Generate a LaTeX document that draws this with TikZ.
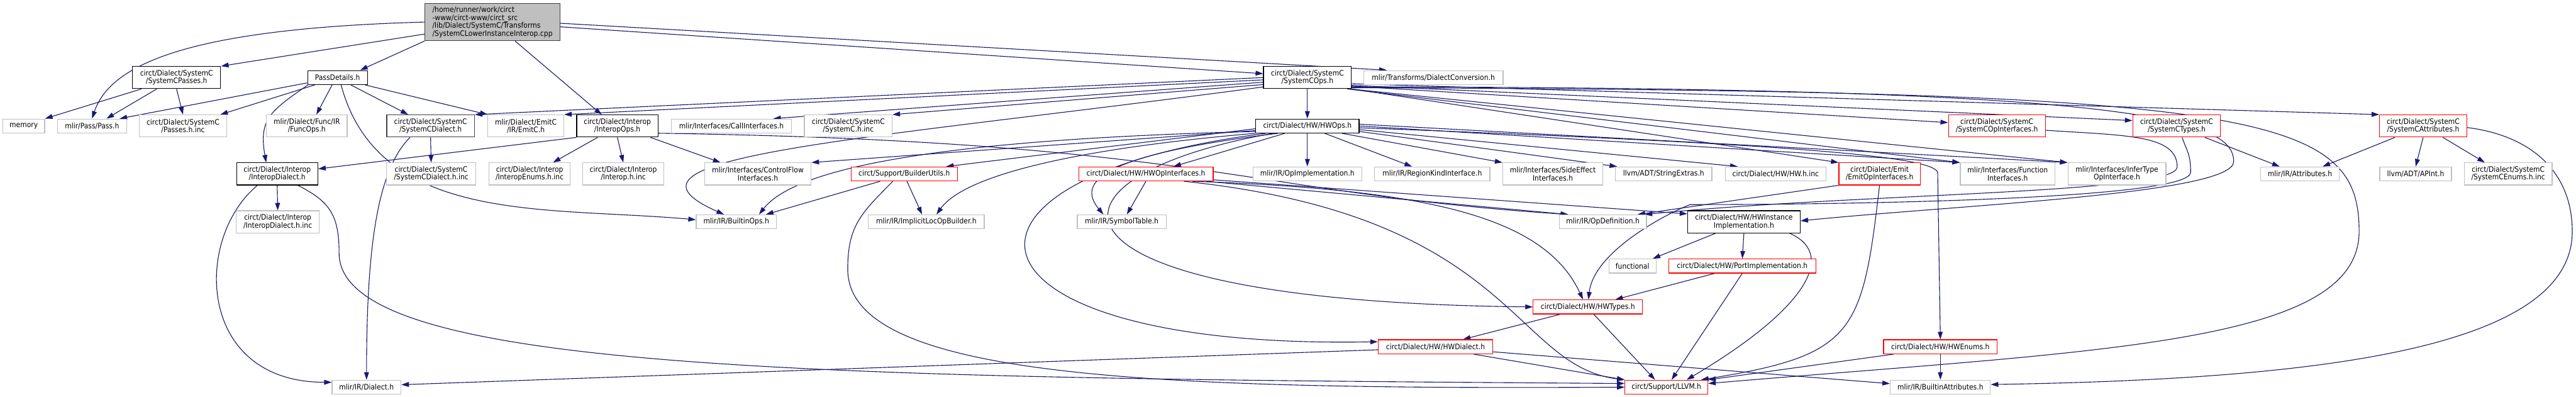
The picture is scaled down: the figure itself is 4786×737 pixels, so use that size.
\documentclass[tikz,border=0pt]{standalone}
\usepackage{fontspec}
\setmainfont{DejaVu Sans Condensed}
\usetikzlibrary{arrows.meta}
\definecolor{dedge}{HTML}{191970}
\definecolor{dgrey}{HTML}{BFBFBF}
\definecolor{ddark}{HTML}{404040}
\definecolor{dred}{HTML}{FF0000}
\pgfdeclarelayer{paper}
\pgfdeclarelayer{edges}
\pgfsetlayers{paper,edges,main}

\begin{document}
\begin{tikzpicture}[x=1pt, y=-1pt,
  file/.style={draw, line width=1.4pt, fill=white, inner sep=0pt, minimum height=26pt, align=center, font=\fontsize{14}{14.5}\selectfont},
  ext/.style={file, draw=dgrey},
  doc/.style={file, draw=black},
  trunc/.style={file, draw=dred},
  twoline/.style={minimum height=41pt},
  inc/.style={draw=dedge, line width=1.3pt, -{Triangle[length=14pt, width=9pt]}}]
 \begin{pgfonlayer}{paper}
 \fill[white] (0,0) rectangle (4786,737);
 \end{pgfonlayer}
 \useasboundingbox (0,0) rectangle (4786,737);
 % the source file
 \node[doc, draw=ddark, fill=dgrey, align=left, minimum width=251pt, minimum height=69pt] (root) at (915,41) {/home/runner/work/circt\\-www/circt-www/circt\_src\\/lib/Dialect/SystemC/Transforms\\/SystemCLowerInstanceInterop.cpp};
 % first level
 \node[doc, twoline, minimum width=164pt] (scpasses) at (328,144) {circt/Dialect/SystemC\\/SystemCPasses.h};
 \node[doc, minimum width=111pt] (passdet) at (627,144) {PassDetails.h};
 \node[doc, twoline, minimum width=163pt] (scops) at (2429,144) {circt/Dialect/SystemC\\/SystemCOps.h};
 \node[ext, minimum width=259pt] (dconv) at (2663,144) {mlir/Transforms/DialectConversion.h};
 % second row
 \node[ext, minimum width=78pt] (memory) at (44,234) {memory};
 \node[ext, minimum width=128pt] (pass) at (171,234) {mlir/Pass/Pass.h};
 \node[ext, twoline, minimum width=162pt] (passinc) at (340,234) {circt/Dialect/SystemC\\/Passes.h.inc};
 \node[ext, twoline, minimum width=150pt] (funcops) at (570,234) {mlir/Dialect/Func/IR\\/FuncOps.h};
 \node[doc, twoline, draw=ddark, minimum width=163pt] (scdialect) at (800,234) {circt/Dialect/SystemC\\/SystemCDialect.h};
 \node[ext, twoline, minimum width=141pt] (emitc) at (977,234) {mlir/Dialect/EmitC\\/IR/EmitC.h};
 \node[doc, twoline, minimum width=151pt] (interopops) at (1147,234) {circt/Dialect/Interop\\/InteropOps.h};
 \node[ext, minimum width=223pt] (callif) at (1359,234) {mlir/Interfaces/CallInterfaces.h};
 \node[ext, twoline, minimum width=163pt] (scinc) at (1576,234) {circt/Dialect/SystemC\\/SystemC.h.inc};
 \node[doc, minimum width=192pt] (hwops) at (2429,234) {circt/Dialect/HW/HWOps.h};
 \node[trunc, twoline, minimum width=180pt] (scopif) at (3710,234) {circt/Dialect/SystemC\\/SystemCOpInterfaces.h};
 \node[trunc, twoline, minimum width=163pt] (sctypes) at (4044,234) {circt/Dialect/SystemC\\/SystemCTypes.h};
 \node[trunc, twoline, minimum width=162pt] (scattr) at (4502,234) {circt/Dialect/SystemC\\/SystemCAttributes.h};
 % third row
 \node[doc, twoline, minimum width=151pt] (interopdialect) at (515,323) {circt/Dialect/Interop\\/InteropDialect.h};
 \node[ext, twoline, minimum width=166pt] (scdialectinc) at (801,323) {circt/Dialect/SystemC\\/SystemCDialect.h.inc};
 \node[ext, twoline, minimum width=151pt] (interopenums) at (984,323) {circt/Dialect/Interop\\/InteropEnums.h.inc};
 \node[ext, twoline, minimum width=151pt] (interopinc) at (1158,323) {circt/Dialect/Interop\\/Interop.h.inc};
 \node[ext, twoline, minimum width=198pt] (cfif) at (1408,323) {mlir/Interfaces/ControlFlow\\Interfaces.h};
 \node[trunc, minimum width=197pt] (builderutils) at (1680,323) {circt/Support/BuilderUtils.h};
 \node[trunc, minimum width=250pt] (hwopif) at (2129,323) {circt/Dialect/HW/HWOpInterfaces.h};
 \node[ext, minimum width=202pt] (opimpl) at (2429,323) {mlir/IR/OpImplementation.h};
 \node[ext, minimum width=214pt] (regionkind) at (2661,323) {mlir/IR/RegionKindInterface.h};
 \node[ext, twoline, minimum width=186pt] (sideeff) at (2885,323) {mlir/Interfaces/SideEffect\\Interfaces.h};
 \node[ext, minimum width=179pt] (strext) at (3091,323) {llvm/ADT/StringExtras.h};
 \node[ext, minimum width=187pt] (hwinc) at (3299,323) {circt/Dialect/HW/HW.h.inc};
 \node[trunc, twoline, minimum width=151pt] (emitopif) at (3492,323) {circt/Dialect/Emit\\/EmitOpInterfaces.h};
 \node[ext, twoline, minimum width=176pt] (funcif) at (3730,323) {mlir/Interfaces/Function\\Interfaces.h};
 \node[ext, twoline, minimum width=182pt] (infertype) at (3933,323) {mlir/Interfaces/InferType\\OpInterface.h};
 \node[ext, minimum width=146pt] (attributes) at (4273,323) {mlir/IR/Attributes.h};
 \node[ext, minimum width=133pt] (apint) at (4488,323) {llvm/ADT/APInt.h};
 \node[ext, twoline, minimum width=163pt] (scenumsinc) at (4660,323) {circt/Dialect/SystemC\\/SystemCEnums.h.inc};
 % fourth row
 \node[ext, twoline, minimum width=154pt] (interopdialectinc) at (516,412) {circt/Dialect/Interop\\/InteropDialect.h.inc};
 \node[ext, minimum width=149pt] (builtinops) at (1368,412) {mlir/IR/BuiltinOps.h};
 \node[ext, minimum width=215pt] (implicitloc) at (1721,412) {mlir/IR/ImplicitLocOpBuilder.h};
 \node[ext, minimum width=165pt] (symtab) at (2084,412) {mlir/IR/SymbolTable.h};
 \node[ext, minimum width=162pt] (opdef) at (2978,412) {mlir/IR/OpDefinition.h};
 \node[doc, twoline, minimum width=209pt] (hwinst) at (3240,412) {circt/Dialect/HW/HWInstance\\Implementation.h};
 % lower rows
 \node[ext, minimum width=88pt] (functional) at (3033,494) {functional};
 \node[trunc, minimum width=274pt] (portimpl) at (3237,494) {circt/Dialect/HW/PortImplementation.h};
 \node[trunc, minimum width=203pt] (hwtypes) at (2950,570) {circt/Dialect/HW/HWTypes.h};
 \node[trunc, minimum width=213pt] (hwdialect) at (2667,644) {circt/Dialect/HW/HWDialect.h};
 \node[trunc, minimum width=211pt] (hwenums) at (3605,644) {circt/Dialect/HW/HWEnums.h};
 \node[ext, minimum width=128pt] (dialect) at (681,719) {mlir/IR/Dialect.h};
 \node[trunc, minimum width=154pt] (llvm) at (3096,719) {circt/Support/LLVM.h};
 \node[ext, minimum width=186pt] (builtinattr) at (3605,719) {mlir/IR/BuiltinAttributes.h};
 % bends of the long edges
 \coordinate (bendA) at (4383,430);
 \coordinate (bendB) at (4150,300);
 \coordinate (bendC) at (4045,310);
 \coordinate (bendD) at (4070,320);
 \coordinate (bendDD) at (3140,380);
 \coordinate (bendE) at (4779,430);
 \coordinate (bendF) at (3600,320);
 \coordinate (bendG) at (1575,500);
 \coordinate (bendH) at (630,470);

 \begin{pgfonlayer}{edges}
 % the source file
 \draw[inc] (root.west) .. controls +(-438,12) and +(34,-101) .. (pass.north);
 \draw[inc] (root.190) -- (scpasses.north east);
 \draw[inc] (root.south west) -- (passdet.18);
 \draw[inc] (root.-40) -- (interopops.144);
 \draw[inc] (root.-4) -- (scops.175);
 \draw[inc] (root.-1) -- (dconv.171);
 % SystemCPasses.h
 \draw[inc] (scpasses.198) -- (memory.north east);
 \draw[inc] (scpasses.210) -- (pass.27);
 \draw[inc] (scpasses.south) -- (passinc.north);
 % PassDetails.h
 \draw[inc] (passdet.190) -- (pass.15);
 \draw[inc] (passdet.194) to[out=215, in=100, looseness=1.3] (interopdialect.134);
 \draw[inc] (passdet.198) -- (passinc.17);
 \draw[inc] (passdet.234) -- (funcops.50);
 \draw[inc] (passdet.-64) .. controls +(70,260) and +(-280,-25) .. (builtinops.177);
 \draw[inc] (passdet.-29) -- (scdialect.153);
 \draw[inc] (passdet.-15) -- (emitc.north west);
 % dialect headers
 \draw[inc] (scdialect.south) -- (scdialectinc.north);
 \draw[inc] (scdialect.209) .. controls +(-60,60) and +(0,-250) .. (dialect.north);
 \draw[inc] (interopdialect.south) -- (interopdialectinc.north);
 \draw[inc] (interopdialect.210) .. controls +(-120,100) and +(-250,0) .. (dialect.172);
 \draw[inc] (interopdialect.-29) .. controls +(60,30) and +(0,-70) .. (bendH) .. controls +(0,220) and +(-1500,-10) .. (llvm.175);
 % InteropOps.h
 \draw[inc] (interopops.south west) -- (interopdialect.7);
 \draw[inc] (interopops.210) -- (interopenums.26);
 \draw[inc] (interopops.south) -- (interopinc.north);
 \draw[inc] (interopops.-19) -- (cfif.163);
 \draw[inc] (interopops.-10) .. controls +(1000,15) and +(-600,-40) .. (opdef.168);
 % SystemCOps.h
 \draw[inc] (scops.180) -- (scdialect.north east);
 \draw[inc] (scops.183) -- (emitc.north east);
 \draw[inc] (scops.186) -- (callif.10);
 \draw[inc] (scops.189) -- (scinc.north east);
 \draw[inc] (scops.192) .. controls +(-750,100) and +(-246,-109) .. (builtinops.149);
 \draw[inc] (scops.south) -- (hwops.north);
 \draw[inc] (scops.-8) -- (scattr.north west);
 \draw[inc] (scops.-10) -- (sctypes.173);
 \draw[inc] (scops.-11) -- (scopif.176);
 \draw[inc] (scops.south east) -- (emitopif.north west);
 \draw[inc] (scops.-15) -- (infertype.north west);
 \draw[inc] (scops.-16) -- (funcif.north west);
 \draw[inc] (scops.-12) .. controls +(1450,0) and +(0,-80) .. (bendB) .. controls +(0,60) and +(300,-30) .. (hwinst.1);
 \draw[inc] (scops.-13) .. controls +(1690,5) and +(0,-220) .. (bendA) .. controls +(0,210) and +(730,-62) .. (llvm.5);
 % HWOps.h
 \draw[inc] (hwops.183) -- (builderutils.10);
 \draw[inc] (hwops.185) -- (cfif.north east);
 \draw[inc] (hwops.186) .. controls +(-633,16) and +(62,-79) .. (builtinops.18);
 \draw[inc] (hwops.188) .. controls +(-350,30) and +(50,-70) .. (implicitloc.36);
 \draw[inc] (hwops.190) .. controls +(-655,83) and +(-800,15) .. (hwdialect.175);
 \draw[inc] (hwops.192) .. controls +(-468,83) and +(-948,-10) .. (hwtypes.west);
 \draw[inc] (hwops.194) .. controls +(-330,40) and +(-50,-60) .. (symtab.158);
 \draw[inc] (hwops.198) -- (hwopif.15);
 \draw[inc] (hwops.south) -- (opimpl.north);
 \draw[inc] (hwops.-23) -- (regionkind.160);
 \draw[inc] (hwops.-12) -- (sideeff.north west);
 \draw[inc] (hwops.-6) -- (strext.171);
 \draw[inc] (hwops.-4) -- (hwinc.169);
 \draw[inc] (hwops.-2) .. controls +(800,30) and +(-10,-30) .. (bendF) -- (hwenums.north);
 \draw[inc] (hwops.0) -- (funcif.north west);
 \draw[inc] (hwops.2) -- (infertype.north west);
 % HWOpInterfaces.h
 \draw[inc] (hwopif.south) -- (symtab.55);
 \draw[inc] (hwopif.-5) -- (hwinst.172);
 \draw[inc] (hwopif.-7) -- (opdef.168);
 \draw[inc] (hwopif.-9) .. controls +(450,15) and +(-70,-150) .. (hwtypes.123);
 \draw[inc] (hwopif.-11) .. controls +(614,64) and +(-209,-26) .. (llvm.north west);
 % BuilderUtils.h
 \draw[inc] (builderutils.197) -- (builtinops.14);
 \draw[inc] (builderutils.-70) -- (implicitloc.120);
 \draw[inc] (builderutils.213) .. controls +(-60,60) and +(0,-80) .. (bendG) .. controls +(0,200) and +(-900,5) .. (llvm.180);
 % SystemC interfaces, types, attributes
 \draw[inc] (scopif.-5) .. controls +(150,10) and +(0,-60) .. (bendC) .. controls +(0,50) and +(400,-40) .. (opdef.10);
 \draw[inc] (sctypes.-64) .. controls +(8,25) and +(0,-35) .. (bendD) .. controls +(0,50) and +(300,0) .. (bendDD) .. controls +(-40,15) and +(10,-90) .. (hwtypes.85);
 \draw[inc] (sctypes.-22) -- (attributes.160);
 \draw[inc] (scattr.202) -- (attributes.18);
 \draw[inc] (scattr.south) -- (apint.north);
 \draw[inc] (scattr.-30) -- (scenumsinc.154);
 \draw[inc] (scattr.-2) .. controls +(120,15) and +(0,-110) .. (bendE) .. controls +(0,220) and +(600,-10) .. (builtinattr.3);
 % EmitOpInterfaces.h
 \draw[inc] (emitopif.south) .. controls +(-32,277) and +(285,-46) .. (llvm.12);
 \draw[inc] (emitopif.south west) -- (opdef.12);
 % HWInstanceImplementation.h
 \draw[inc] (hwinst.202) -- (functional.20);
 \draw[inc] (hwinst.south) -- (portimpl.north);
 \draw[inc] (hwinst.-14) .. controls +(90,40) and +(220,-130) .. (llvm.20);
 % lower HW headers
 \draw[inc] (portimpl.195) -- (hwtypes.15);
 \draw[inc] (portimpl.south) -- (llvm.55);
 \draw[inc] (hwtypes.195) -- (hwdialect.15);
 \draw[inc] (hwtypes.-51) -- (llvm.147);
 \draw[inc] (hwdialect.183) -- (dialect.4);
 \draw[inc] (hwdialect.-11) -- (llvm.170);
 \draw[inc] (hwdialect.-5) -- (builtinattr.176);
 \draw[inc] (hwenums.189) -- (llvm.north east);
 \draw[inc] (hwenums.south) -- (builtinattr.north);
 \end{pgfonlayer}
\end{tikzpicture}
\end{document}
